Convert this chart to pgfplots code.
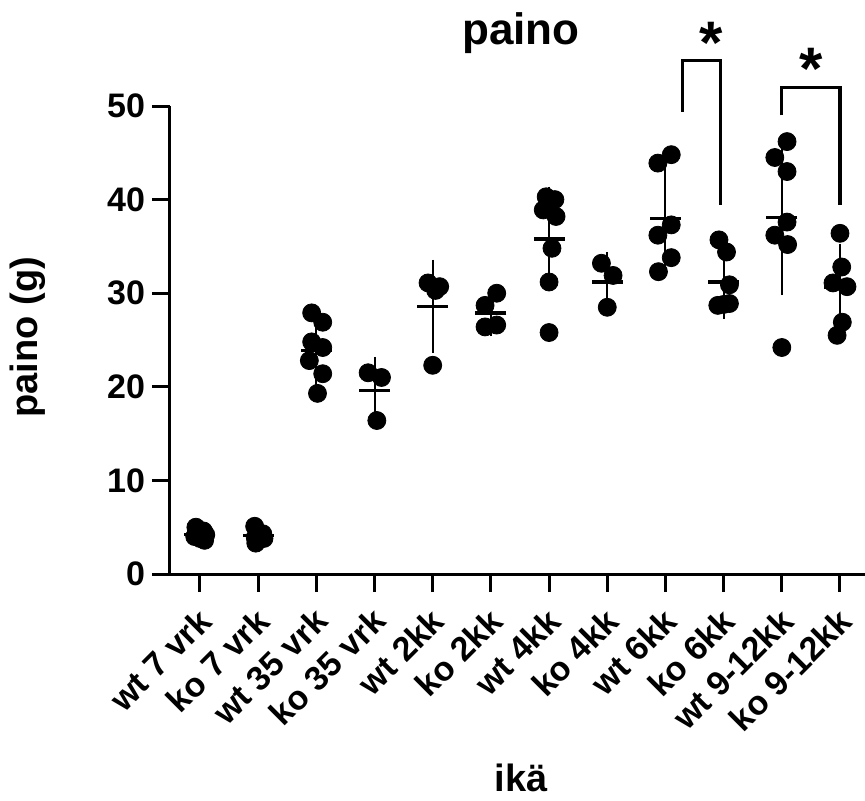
\documentclass[border=0pt]{standalone}
\usepackage{fontspec}
\setmainfont{Liberation Sans}
\usepackage{pgfplots}
\pgfplotsset{compat=1.18}

\begin{document}
\begin{tikzpicture}
\begin{axis}[
    scale only axis,
    width=347.5pt, height=234pt,
    xmin=-0.515, xmax=11.43,
    ymin=0, ymax=50,
    axis lines=left,
    axis line style={-, line width=1.5pt},
    clip=false,
    xtick={0,...,11},
    xticklabels={wt 7 vrk, ko 7 vrk, wt 35 vrk, ko 35 vrk, wt 2kk, ko 2kk,
                 wt 4kk, ko 4kk, wt 6kk, ko 6kk, wt 9-12kk, ko 9-12kk},
    ytick={0,10,...,50},
    tick align=outside,
    major tick length=9pt,
    tick style={line width=1.5pt, black},
    x tick label style={xshift=5pt, yshift=-9pt, rotate=45, anchor=east,
                        font=\fontsize{17}{20}\selectfont\bfseries},
    y tick label style={font=\fontsize{17}{20}\selectfont\bfseries},
    /pgf/number format/assume math mode=true,
    title={paino},
    title style={at={(axis description cs:0.505,1.106)}, anchor=base,
                 font=\fontsize{22}{26}\selectfont\bfseries},
    xlabel={ikä},
    xlabel style={at={(axis description cs:0.505,-0.464)}, anchor=base,
                  font=\fontsize{19}{23}\selectfont\bfseries},
    ylabel={paino (g)},
    ylabel style={at={(axis description cs:-0.19,0.506)}, anchor=base,
                  font=\fontsize{19}{23}\selectfont\bfseries},
]
\coordinate (O) at (rel axis cs:0,0);

% individual animals
\addplot[only marks, mark=*, mark size=4.5pt, black] table {
x y
-0.07 5.0
0.06 4.6
0.1 4.2
-0.09 4.0
0.0 3.8
0.08 3.6
0.94 5.1
1.08 4.3
0.95 3.9
1.1 3.8
0.96 3.3
1.92 27.9
2.11 26.9
1.92 24.8
2.11 24.2
1.88 22.8
2.11 21.4
2.02 19.3
2.89 21.5
3.12 21.0
3.04 16.4
3.92 31.1
4.12 30.7
4.05 30.3
4.0 22.3
5.1 30.0
4.9 28.7
4.9 26.4
5.1 26.6
5.95 40.3
6.1 40.0
5.9 38.9
6.12 38.2
6.05 34.8
6.0 31.2
6.0 25.8
6.9 33.2
7.1 31.9
7.0 28.5
8.1 44.8
7.87 43.9
8.1 37.3
7.87 36.2
8.1 33.8
7.88 32.3
8.92 35.7
9.05 34.4
9.1 30.9
9.1 28.9
8.9 28.7
9.0 28.8
10.09 46.2
9.88 44.5
10.09 43.0
10.09 37.6
9.88 36.2
10.1 35.2
10.0 24.2
11.0 36.4
11.03 32.8
10.88 31.1
11.12 30.7
11.04 26.9
10.95 25.5
};

% mean and SD
\addplot[only marks, black, mark=-, mark size=7.75pt, mark options={line width=1.7pt},
    error bars/.cd, y dir=both, y explicit,
    error mark=-, error mark options={mark size=3.75pt, line width=1pt},
    error bar style={line width=1pt}]
    table[x=x, y=m, y error=s] {
x m s
0 4.2 0.5
1 4.1 0.65
2 23.9 3.0
3 19.6 2.8
4 28.6 4.2
5 27.9 1.7
6 35.8 4.8
7 31.2 2.4
8 38.0 5.2
9 31.2 3.1
10 38.1 7.5
11 30.6 3.9
};

% significance brackets
\draw[line width=1.6pt] (axis cs:8.3,49.4) -- (axis cs:8.3,54.9) -- (axis cs:8.95,54.9) -- (axis cs:8.95,39.4);
\node[anchor=north, inner sep=0pt, font=\fontsize{30}{30}\selectfont\bfseries] at (axis cs:8.78,59.0) {*};
\draw[line width=1.6pt] (axis cs:10.0,49.0) -- (axis cs:10.0,52.0) -- (axis cs:11.0,52.0) -- (axis cs:11.0,39.4);
\node[anchor=north, inner sep=0pt, font=\fontsize{30}{30}\selectfont\bfseries] at (axis cs:10.5,56.2) {*};
\end{axis}
\pgfresetboundingbox
\path[use as bounding box] ([shift={(-85pt,-113pt)}]O) rectangle ++(432.5pt,400pt);
\end{tikzpicture}
\end{document}
